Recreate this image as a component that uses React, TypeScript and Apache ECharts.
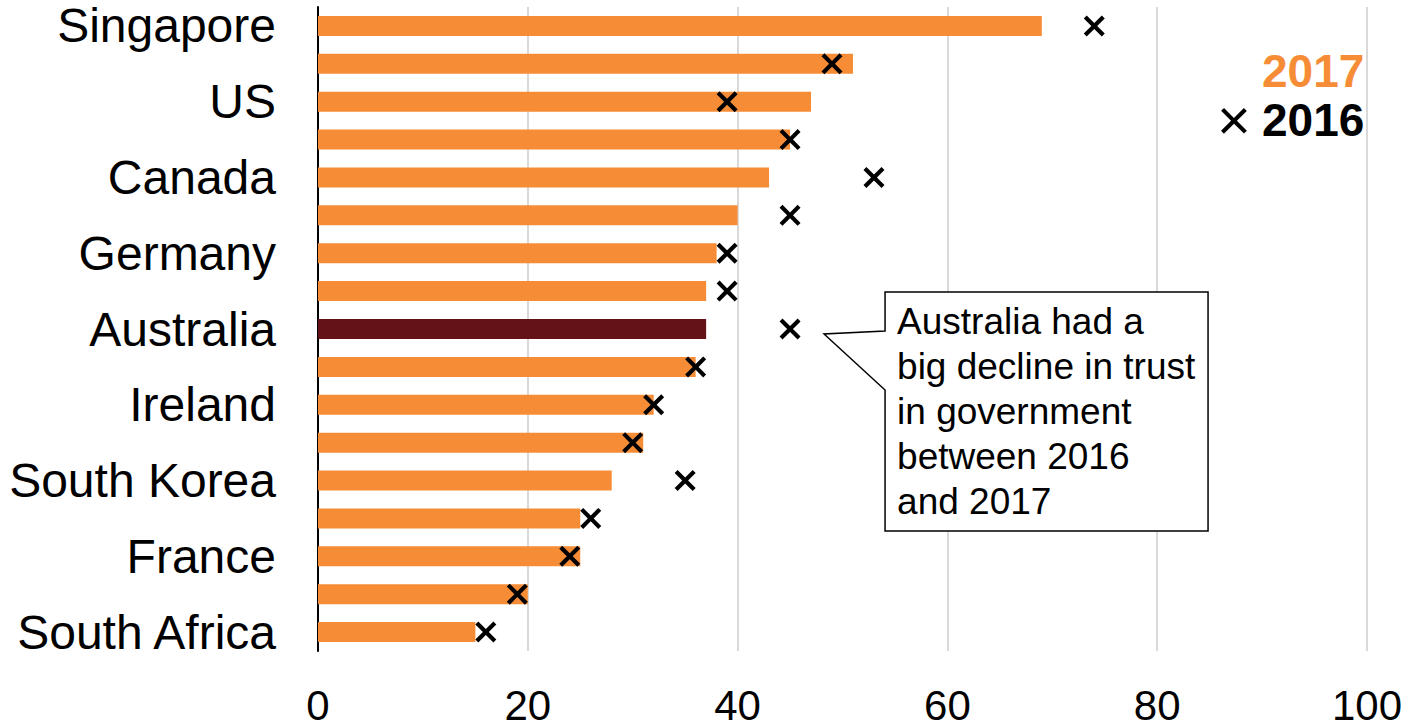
import React, { useEffect, useRef } from "react";
import * as echarts from "echarts";

const countries = [
  "Singapore", "Netherlands", "US", "India", "Canada", "UK", "Germany", "Sweden",
  "Australia", "Japan", "Ireland", "Italy", "South Korea", "Spain", "France", "Brazil", "South Africa",
];
const trust2017 = [69, 51, 47, 45, 43, 40, 38, 37, 37, 36, 32, 31, 28, 25, 25, 20, 15];
const trust2016 = [74, 49, 39, 45, 53, 45, 39, 39, 45, 36, 32, 30, 35, 26, 24, 19, 16];
const xMin = 0;
const xMax = 100;
const xInterval = 20;
const highlight = "Australia";
const label2017 = "2017";
const label2016 = "2016";
const calloutText = "Australia had a\nbig decline in trust\nin government\nbetween 2016\nand 2017";

const ORANGE = "#F68D36";
const MAROON = "#641217";
const FONT = "Liberation Sans";
const CROSS =
  "path://M0,1.4L1.4,0L5,3.6L8.6,0L10,1.4L6.4,5L10,8.6L8.6,10L5,6.4L1.4,10L0,8.6L3.6,5Z";

export default function App() {
  const ref = useRef<HTMLDivElement>(null);
  useEffect(() => {
    const chart = echarts.init(ref.current!, null, { renderer: "svg" });
    chart.setOption({
      animation: false,
      grid: { left: 318, right: 42, top: 7, bottom: 77, containLabel: false },
      xAxis: {
        type: "value",
        min: xMin,
        max: xMax,
        interval: xInterval,
        axisLine: { show: false },
        axisTick: { show: false },
        axisLabel: {
          color: "#000",
          fontSize: 42,
          fontFamily: FONT,
          margin: 36,
          lineHeight: 36,
        },
        splitLine: { show: true, lineStyle: { color: "#d9d9d9", width: 2 } },
      },
      yAxis: {
        type: "category",
        data: countries,
        inverse: true,
        axisLine: { show: true, lineStyle: { color: "#000", width: 2 } },
        axisTick: { show: false },
        axisLabel: { color: "#000", fontSize: 48, fontFamily: FONT, margin: 42, interval: 1 },
        splitLine: { show: false },
      },
      series: [
        {
          name: label2017,
          type: "bar",
          barWidth: 20,
          data: trust2017.map((v, i) =>
            countries[i] === highlight ? { value: v, itemStyle: { color: MAROON } } : v
          ),
          itemStyle: { color: ORANGE },
          z: 2,
        },
        {
          name: label2016,
          type: "scatter",
          symbol: CROSS,
          symbolSize: 21,
          data: trust2016,
          itemStyle: { color: "#000", opacity: 1 },
          z: 3,
        },
      ],
    });

    const idx = countries.indexOf(highlight);
    const [px, py] = chart.convertToPixel({ gridIndex: 0 }, [trust2016[idx], idx]) as number[];
    const tipX = px + 34;
    const tipY = py + 5;
    const boxL = px + 95;
    const boxR = px + 418;
    const boxT = py - 37;
    const boxB = py + 202;

    chart.setOption({
      graphic: [
        {
          type: "polygon",
          shape: {
            points: [
              [boxL, boxT],
              [boxR, boxT],
              [boxR, boxB],
              [boxL, boxB],
              [boxL, py + 61],
              [tipX, tipY],
              [boxL, py + 2],
            ],
          },
          style: { fill: "#fff", stroke: "#000", lineWidth: 1.5 },
          z: 10,
        },
        {
          type: "text",
          x: boxL + 12,
          y: boxT + 7,
          style: {
            text: calloutText,
            fontSize: 37,
            fontFamily: FONT,
            lineHeight: 45,
            fill: "#000",
            align: "left",
            verticalAlign: "top",
          },
          z: 11,
        },
        {
          type: "text",
          x: 1262,
          y: 71,
          style: {
            text: label2017,
            fontSize: 46,
            fontWeight: "bold",
            fontFamily: FONT,
            fill: ORANGE,
            align: "left",
            verticalAlign: "middle",
          },
          z: 11,
        },
        {
          type: "text",
          x: 1262,
          y: 120,
          style: {
            text: label2016,
            fontSize: 46,
            fontWeight: "bold",
            fontFamily: FONT,
            fill: "#000",
            align: "left",
            verticalAlign: "middle",
          },
          z: 11,
        },
        {
          type: "text",
          x: 1234,
          y: 119,
          style: {
            text: "×",
            fontSize: 58,
            fontFamily: FONT,
            fill: "#000",
            align: "center",
            verticalAlign: "middle",
          },
          z: 11,
        },
      ],
    });

    return () => chart.dispose();
  }, []);
  return (
    <div
      ref={ref}
      style={{ position: "fixed", left: 0, top: 0, width: 1409, height: 728, background: "#fff" }}
    />
  );
}
